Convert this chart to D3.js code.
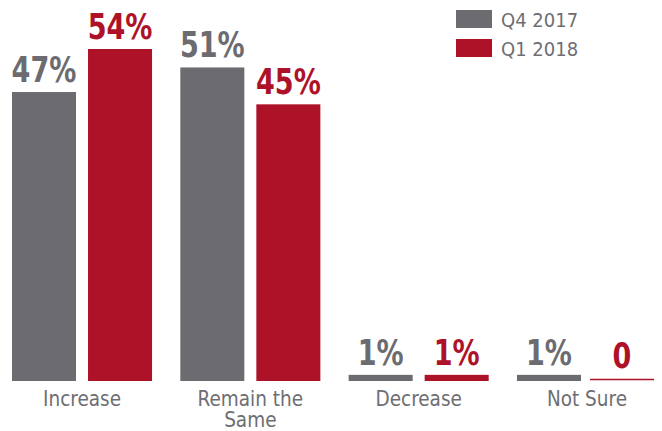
<!DOCTYPE html>
<html>
<head>
<meta charset="utf-8">
<script src="https://cdn.jsdelivr.net/npm/d3@7"></script>
<style>
  html, body { margin: 0; padding: 0; background: #fff; }
  svg { display: block; }
  text { font-family: "DejaVu Sans Condensed", "DejaVu Sans", sans-serif; }
</style>
</head>
<body>
<svg id="chart" width="662" height="431"></svg>
<script>
// Survey outlook, two quarters side by side
const categories = ["Increase", "Remain the Same", "Decrease", "Not Sure"];
const categoryLines = [["Increase"], ["Remain the", "Same"], ["Decrease"], ["Not Sure"]];
const seriesNames = ["Q4 2017", "Q1 2018"];
const q4_2017 = [47, 51, 1, 1];
const q1_2018 = [54, 45, 1, 0];
const valueLabels = [["47%", "51%", "1%", "1%"], ["54%", "45%", "1%", "0"]];
const seriesValues = [q4_2017, q1_2018];
const colors = ["#6c6b70", "#ae1228"];
const textGray = "#6e6e72";

const svg = d3.select("#chart");

const x0 = d3.scaleBand()
  .domain(categories)
  .range([12, 657])
  .paddingInner(0.168)
  .paddingOuter(0);

const x1 = d3.scaleBand()
  .domain(seriesNames)
  .range([0, x0.bandwidth()])
  .paddingInner(12 / 76)
  .paddingOuter(0);

const y = d3.scaleLinear().domain([0, 54]).range([381, 49]);

const rows = [];
categories.forEach((c, i) => {
  seriesNames.forEach((s, j) => {
    rows.push({ cat: c, series: s, si: j, value: seriesValues[j][i], label: valueLabels[j][i] });
  });
});

const g = svg.append("g");

// bars (zero values drawn as a thin rule on the baseline)
g.selectAll("rect.bar")
  .data(rows.filter(d => d.value > 0))
  .join("rect")
  .attr("class", "bar")
  .attr("x", d => x0(d.cat) + x1(d.series))
  .attr("y", d => y(d.value))
  .attr("width", x1.bandwidth())
  .attr("height", d => y(0) - y(d.value))
  .attr("fill", d => colors[d.si]);

g.selectAll("line.zero")
  .data(rows.filter(d => d.value === 0))
  .join("line")
  .attr("class", "zero")
  .attr("x1", d => x0(d.cat) + x1(d.series) - 3)
  .attr("x2", d => x0(d.cat) + x1(d.series) + x1.bandwidth() - 3)
  .attr("y1", y(0) - 1.5)
  .attr("y2", y(0) - 1.5)
  .attr("stroke", d => colors[d.si])
  .attr("stroke-width", 1.3);

// value labels, condensed horizontally
g.selectAll("text.val")
  .data(rows)
  .join("text")
  .attr("class", "val")
  .attr("transform", d => {
    const cx = x0(d.cat) + x1(d.series) + x1.bandwidth() / 2 - (d.value === 0 ? 3 : 0);
    const by = y(d.value) - (d.value === 0 ? 13 : 10);
    return `translate(${cx},${by}) scale(0.86,1)`;
  })
  .attr("text-anchor", "middle")
  .attr("font-size", 35)
  .attr("font-weight", "bold")
  .attr("fill", d => colors[d.si])
  .text(d => d.label);

// category labels
const catG = g.selectAll("text.cat")
  .data(categories)
  .join("text")
  .attr("class", "cat")
  .attr("x", d => x0(d) + x0.bandwidth() / 2)
  .attr("y", 406)
  .attr("text-anchor", "middle")
  .attr("font-size", 20.5)
  .attr("fill", textGray);

catG.selectAll("tspan")
  .data((d, i) => categoryLines[i])
  .join("tspan")
  .attr("x", function () { return d3.select(this.parentNode).attr("x"); })
  .attr("dy", (d, i) => i === 0 ? 0 : 21)
  .text(d => d);

// legend
const legend = svg.append("g").attr("transform", "translate(456,10)");
seriesNames.forEach((s, i) => {
  legend.append("rect")
    .attr("x", 0)
    .attr("y", i * 29)
    .attr("width", 36)
    .attr("height", 18)
    .attr("fill", colors[i]);
  legend.append("text")
    .attr("x", 45)
    .attr("y", i * 29 + 17)
    .attr("font-size", 20)
    .attr("fill", textGray)
    .text(s);
});
</script>
</body>
</html>
